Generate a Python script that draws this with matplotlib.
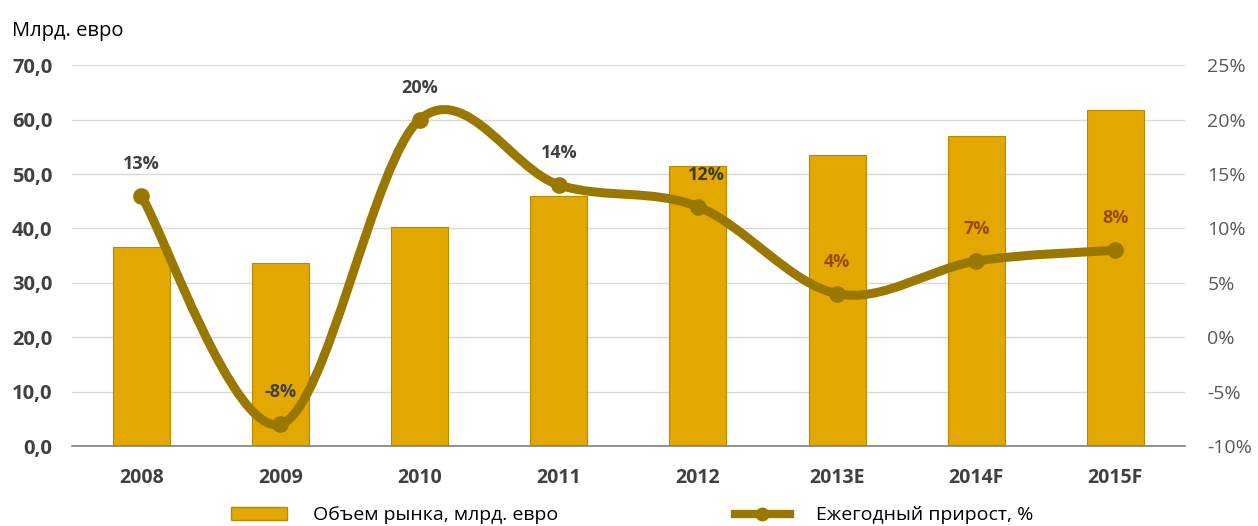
import numpy as np
import matplotlib
matplotlib.use("Agg")
import matplotlib.pyplot as plt
from matplotlib.path import Path
from matplotlib.patches import PathPatch, Patch
from matplotlib.lines import Line2D

plt.rcParams['font.family'] = ['Open Sans', 'DejaVu Sans']

years = ["2008", "2009", "2010", "2011", "2012", "2013E", "2014F", "2015F"]
market = [36.6, 33.6, 40.3, 46.0, 51.5, 53.5, 57.0, 61.8]
growth = [13, -8, 20, 14, 12, 4, 7, 8]
growth_labels = ["13%", "-8%", "20%", "14%", "12%", "4%", "7%", "8%"]
label_colors = ["#404040", "#404040", "#404040", "#404040", "#3f3a1a", "#9a4a00", "#9a4a00", "#9a4a00"]
label_dx = [0, 0, 0, 0, 6, 0, 0, 0]

bar_color = "#E2A800"
bar_edge = "#B58A00"
line_color = "#9A7800"

fig = plt.figure(figsize=(12.58, 5.26), dpi=100)
ax = fig.add_axes([0.057, 0.152, 0.885, 0.724])
ax2 = ax.twinx()

x = np.arange(len(years))
ax.bar(x, market, width=0.41, color=bar_color, edgecolor=bar_edge, linewidth=0.8, zorder=2)
ax.set_xlim(-0.5, len(years) - 0.5)
ax.set_ylim(0, 70)
ax.set_yticks(np.arange(0, 71, 10))
ax.set_yticklabels([f"{v:.1f}".replace(".", ",") for v in np.arange(0, 71, 10)],
                   fontsize=14.5, fontweight="bold", color="#404040")
ax.set_xticks(x)
ax.set_xticklabels(years, fontsize=14, fontweight="bold", color="#404040")
ax.grid(axis="y", color="#D9D9D9", linewidth=1, zorder=0)
ax.set_axisbelow(True)
for s in ["top", "right", "left"]:
    ax.spines[s].set_visible(False)
ax.spines["bottom"].set_color("#7F7F7F")
ax.spines["bottom"].set_linewidth(1.2)
ax.tick_params(axis="y", length=0, pad=14)
ax.tick_params(axis="x", length=0, pad=16)

# smoothed line (Catmull-Rom style Bezier, like Excel smoothing)
pts = np.column_stack([x, growth]).astype(float)
verts = [tuple(pts[0])]
codes = [Path.MOVETO]
t = 1 / 6
for i in range(len(pts) - 1):
    p0 = pts[i - 1] if i > 0 else pts[i]
    p1 = pts[i]
    p2 = pts[i + 1]
    p3 = pts[i + 2] if i + 2 < len(pts) else pts[i + 1]
    c1 = p1 + (p2 - p0) * t
    c2 = p2 - (p3 - p1) * t
    verts += [tuple(c1), tuple(c2), tuple(p2)]
    codes += [Path.CURVE4] * 3
ax2.add_patch(PathPatch(Path(verts, codes), facecolor="none", edgecolor=line_color,
                        linewidth=6.5, capstyle="round", zorder=3))
ax2.plot(x, growth, linestyle="none", marker="o", markersize=11,
         color=line_color, zorder=4)
for xi, g, lab, c, dx in zip(x, growth, growth_labels, label_colors, label_dx):
    ax2.annotate(lab, (xi, g), xytext=(dx, 23), textcoords="offset points",
                 ha="center", va="center", fontsize=13, fontweight="bold", color=c)

ax2.set_ylim(-10, 25)
ax2.set_yticks(np.arange(-10, 26, 5))
ax2.set_yticklabels([f"{v}%" for v in range(-10, 26, 5)], fontsize=14, color="#595959")
ax2.tick_params(axis="y", length=0, pad=16)
for s in ["top", "right", "left", "bottom"]:
    ax2.spines[s].set_visible(False)

fig.text(0.0095, 0.942, "Млрд. евро", fontsize=14.5, color="#000000", va="center")

leg_items = [
    (Patch(facecolor=bar_color, edgecolor=bar_edge), "Объем рынка, млрд. евро", 0.184),
    (Line2D([0], [0], color=line_color, linewidth=6, marker="o", markersize=9),
     "Ежегодный прирост, %", 0.584),
]
for h, lab, xa in leg_items:
    fig.legend([h], [lab], loc="center left", bbox_to_anchor=(xa, 0.02), frameon=False,
               fontsize=14, handlelength=2.85, handleheight=0.65, handletextpad=1.35,
               borderpad=0, borderaxespad=0)

fig.savefig("out.png", dpi=100)
